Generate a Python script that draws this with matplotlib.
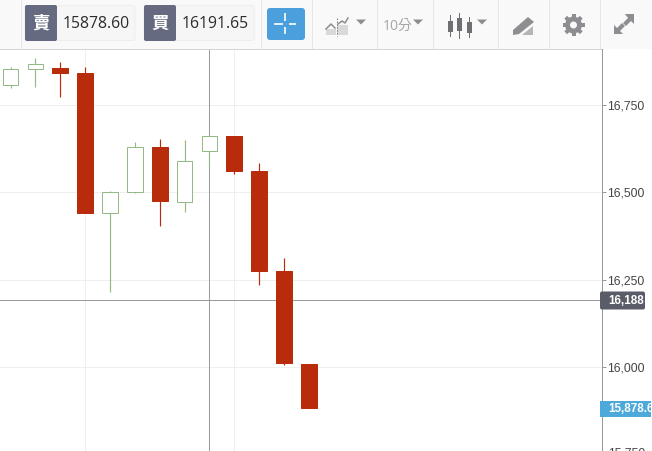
import matplotlib
matplotlib.use('Agg')
import matplotlib.pyplot as plt
from matplotlib.patches import Rectangle, Circle, Polygon, FancyBboxPatch

plt.rcParams['font.family'] = ['Open Sans', 'Noto Sans CJK TC', 'DejaVu Sans']

# candles
opens = [16807, 16853, 16856, 16842, 16441, 16501, 16630, 16472, 16619, 16662, 16561, 16275, 16009]
closes = [16853, 16867, 16842, 16441, 16501, 16630, 16475, 16590, 16662, 16561, 16275, 16012, 15883]
highs = [16859, 16885, 16873, 16859, 16504, 16644, 16653, 16650, 16667, 16662, 16584, 16312, 16009]
lows = [16799, 16802, 16773, 16441, 16215, 16498, 16404, 16444, 16575, 16552, 16235, 16006, 15883]

y_ticks = [16000, 16250, 16500, 16750]
y_tick_labels = ['16,000', '16,250', '16,500', '16,750']
grid_x = [3, 9]
cross_x = 8
cross_y = 16192
sell_price = '15878.60'
buy_price = '16191.65'
cross_label = '16,188'
bid_label = '15,878.6'
interval = '10分'

UP = '#93b985'
DOWN = '#b92c0b'
GRID = '#efefef'
CROSS = '#9a9a9a'
ICON = '#8e8e92'
PX = 0.72  # one pixel in points

W, H = 652.0, 451.0
fig = plt.figure(figsize=(W / 100, H / 100), dpi=100, facecolor='white')

# price pane, x 0-601 and y 49-451 in pixels
ax = fig.add_axes([0, 0, 601.5 / W, (H - 49) / H])
ax.set_xlim(-0.425, 23.77)
ax.set_ylim(15760, 16910)
for s in ['top', 'left', 'bottom']:
    ax.spines[s].set_visible(False)
ax.spines['right'].set_color('#999999')
ax.spines['right'].set_linewidth(PX)
ax.set_xticks([])
ax.yaxis.tick_right()
ax.set_yticks(y_ticks)
ax.set_yticklabels(y_tick_labels, fontsize=8.8, color='#444444', family=['Liberation Sans'])
ax.tick_params(axis='y', length=3, color='#999999', width=PX, pad=1.3)

for t in y_ticks:
    ax.axhline(t, color=GRID, lw=PX, zorder=0)
for g in grid_x:
    ax.axvline(g, color=GRID, lw=PX, zorder=0)

ax.axvline(cross_x, color=CROSS, lw=PX, zorder=1)
ax.axhline(cross_y, color=CROSS, lw=PX, zorder=1)

for i in range(len(opens)):
    up = closes[i] >= opens[i]
    col = UP if up else DOWN
    ax.plot([i, i], [lows[i], highs[i]], color=col, lw=0.85, zorder=2, solid_capstyle='butt')
    bottom = min(opens[i], closes[i])
    height = abs(closes[i] - opens[i])
    w = 0.62 if up else 0.65
    ax.add_patch(Rectangle((i - w / 2, bottom), w, height, facecolor='white' if up else col,
                           edgecolor=col, lw=PX, zorder=3))

# everything else is drawn in pixel coordinates
ov = fig.add_axes([0, 0, 1, 1], facecolor='none')
ov.set_xlim(0, W)
ov.set_ylim(H, 0)
ov.axis('off')

# toolbar
ov.add_patch(Rectangle((0, 0), W, 48.5, facecolor='#f9f9f9', edgecolor='none'))
ov.plot([0, 601], [48.5, 48.5], color='#d4d4d4', lw=PX)
for x in [20.5, 260.5, 311.5, 376.5, 432.5, 497.5, 548.5, 599.5]:
    ov.plot([x, x], [0, 48], color='#e6e6e6', lw=PX)
ov.plot([651.5, 651.5], [0, H], color='#9ccbe2', lw=PX)


def price_box(x, glyph, price):
    ov.add_patch(FancyBboxPatch((x, 5.5), 110, 35, boxstyle='round,pad=0,rounding_size=2',
                                facecolor='#f6f6f6', edgecolor='#eeeeee', lw=PX))
    ov.add_patch(FancyBboxPatch((x, 5), 32, 36, boxstyle='round,pad=0,rounding_size=2',
                                facecolor='#666a80', edgecolor='none'))
    ov.text(x + 16, 23.5, glyph, color='white', fontsize=12.5, ha='center', va='center',
            family=['Noto Sans CJK TC'], weight='bold')
    ov.text(x + 38, 23.5, price, color='#2c2c2c', fontsize=11.3, ha='left', va='center')


price_box(25, '賣', sell_price)
price_box(144, '買', buy_price)

# crosshair button
ov.add_patch(FancyBboxPatch((267, 8), 38, 32, boxstyle='round,pad=0,rounding_size=3',
                            facecolor='#4a9fdc', edgecolor='none'))
for xs, ys in [([274, 283], [24, 24]), ([289, 296], [24, 24]), ([285, 285], [13, 21]), ([285, 285], [27, 34])]:
    ov.plot(xs, ys, color='white', lw=1.2, solid_capstyle='butt')

# dropdown arrows
for x in [361, 418, 482]:
    ov.add_patch(Polygon([(x - 5, 19.5), (x + 5, 19.5), (x, 24.5)], facecolor=ICON, edgecolor='none'))

# chart type icon
ov.add_patch(Rectangle((337, 25), 11, 10, facecolor='#d9d9d9', edgecolor='none'))
ov.add_patch(Rectangle((326, 29), 10, 6, facecolor='#d9d9d9', edgecolor='none'))
ov.plot([326, 331, 335], [29, 24, 28], color=ICON, lw=1.1)
ov.plot([338, 342, 345, 348], [24, 21, 23, 18], color=ICON, lw=1.1)
ov.plot([336.5, 336.5], [18, 36], color='#777777', lw=0.7, ls=(0, (1.5, 1.5)))

ov.text(383, 26, interval, color='#a6a6a6', fontsize=10, ha='left', va='center',
        family=['Open Sans', 'Noto Sans CJK TC'])

# candle icon
for x, top, bot, t2, b2 in [(450, 21, 32, 15, 36), (459, 18, 31, 13, 38), (469, 22, 33, 17, 37)]:
    ov.plot([x, x], [t2, b2], color='#6f6f73', lw=PX)
    ov.add_patch(Rectangle((x - 2.5, top), 5, bot - top, facecolor='#6f6f73', edgecolor='none'))

# drawing tool icon
ov.add_patch(Polygon([(513, 30), (528, 17), (534, 22), (519, 34), (513, 35)], facecolor=ICON, edgecolor='none'))
ov.add_patch(Polygon([(522, 35), (533, 26), (533, 35)], facecolor='#b5b5b5', edgecolor='none'))

# gear icon
gx, gy = 573.5, 25
for ang in [0, 45, 90, 135]:
    ov.add_patch(Rectangle((gx - 2, gy - 11), 4, 22, facecolor=ICON, edgecolor='none',
                           transform=matplotlib.transforms.Affine2D().rotate_deg_around(gx, gy, ang) + ov.transData))
ov.add_patch(Circle((gx, gy), 8.5, facecolor=ICON, edgecolor='none'))
ov.add_patch(Circle((gx, gy), 3.5, facecolor='#f9f9f9', edgecolor='none'))

# expand icon, two arrows with a gap
ov.add_patch(Polygon([(634, 14), (634, 24), (631, 21), (626, 26), (623, 23), (628, 18), (625, 14)],
                     facecolor=ICON, edgecolor='none'))
ov.add_patch(Polygon([(614, 34), (614, 25), (617, 28), (622, 23), (625, 26), (620, 31), (623, 34)],
                     facecolor=ICON, edgecolor='none'))

# axis labels on the right
ov.add_patch(FancyBboxPatch((600, 291.5), 45, 18, boxstyle='round,pad=0,rounding_size=2',
                            facecolor='#5a5c68', edgecolor='none'))
ov.text(608, 301, cross_label, color='white', fontsize=8.4, weight='bold', ha='left', va='center',
        family=['Liberation Sans'])
ov.add_patch(Rectangle((600, 401), 51, 16, facecolor='#4ca9d9', edgecolor='none'))
lab = ov.text(608, 409.5, bid_label, color='white', fontsize=8.4, weight='bold', ha='left', va='center',
              family=['Liberation Sans'])
lab.set_clip_path(Rectangle((600, 401), 51, 16, transform=ov.transData))
# next tick sits just below the frame, only the top of it shows
ov.text(608, 454, '15,750', color='#444444', fontsize=8.8, ha='left', va='center', family=['Liberation Sans'])

fig.savefig('out.png', dpi=100)
